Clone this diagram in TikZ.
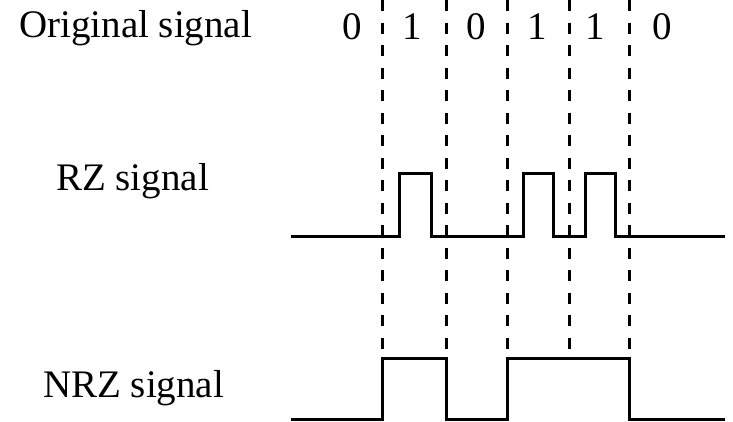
\documentclass[tikz,border=0pt]{standalone}
\usepackage{fontspec}
\setmainfont{Liberation Serif}
\begin{document}
\begin{tikzpicture}[x=1pt,y=-1pt,
  lbl/.style={inner sep=0pt,anchor=base west,font=\fontsize{39}{44}\selectfont},
  bit/.style={inner sep=0pt,anchor=base,font=\fontsize{39}{44}\selectfont},
  sig/.style={line width=3pt,line join=miter},
  guide/.style={line width=3pt,dash pattern=on 11pt off 11.5pt}]
\useasboundingbox (0,0) rectangle (733,421);
% labels
\node[lbl] (orig) at (19,37) {Original signal};
\node[lbl] (rz) at (56,190) {RZ signal};
\node[lbl] (nrz) at (43,397) {NRZ signal};
% bits
\node[bit] (b1) at (352,39) {0};
\node[bit] (b2) at (412,39) {1};
\node[bit] (b3) at (476,39) {0};
\node[bit] (b4) at (537,39) {1};
\node[bit] (b5) at (595,39) {1};
\node[bit] (b6) at (662,39) {0};
% bit boundaries
\foreach \x [count=\i] in {382,446,507,569,629}{
  \coordinate (t\i) at (\x,0);
  \coordinate (e\i) at (\x,350);
  \draw[guide] (t\i) -- (e\i);
}
% RZ waveform
\draw[sig] (291,236) -- (399,236) -- (399,173) -- (431,173) -- (431,236)
  -- (523,236) -- (523,173) -- (553,173) -- (553,236)
  -- (585,236) -- (585,173) -- (615,173) -- (615,236) -- (725,236);
% NRZ waveform
\draw[sig] (291,419) -- (382,419) -- (382,358) -- (446,358) -- (446,419)
  -- (507,419) -- (507,358) -- (629,358) -- (629,419) -- (725,419);
\end{tikzpicture}
\end{document}
